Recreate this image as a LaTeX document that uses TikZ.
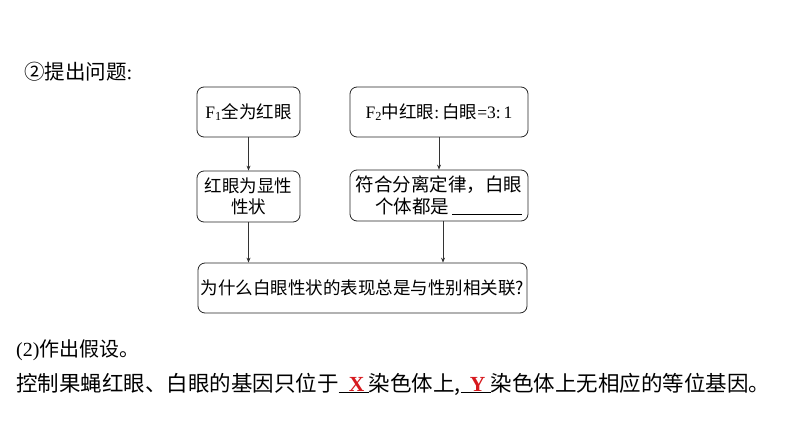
\documentclass[tikz,border=0pt]{standalone}
\usepackage{fontspec}
\setmainfont{Liberation Serif}
\newfontfamily\cjk{Noto Sans CJK SC}
\newfontfamily\tms{Liberation Serif}
\usetikzlibrary{arrows.meta}
\definecolor{ansred}{RGB}{215,25,30}
\tikzset{
  box/.style={draw=black!85, line width=0.8pt, rounded corners=7pt, inner sep=0pt, align=center,
    font=\fontsize{17.5}{21.5}\selectfont\cjk},
  conn/.style={draw=black!80, line width=0.7pt, -{Stealth[length=5pt,width=4pt]}},
  plain/.style={inner sep=0pt, anchor=west}
}
\begin{document}
\begin{tikzpicture}[x=1pt,y=-1pt]
\useasboundingbox[fill=white] (0,0) rectangle (794,446);
\node[plain, font=\fontsize{20.5}{24}\selectfont\cjk] (h) at (24,72) {\makebox[1em][l]{②}提出问题{\tms :}};
\node[box, minimum width=103pt, minimum height=50pt] (A) at (248.5,112) {{\tms F}\textsubscript{\tms 1}全为红眼};
\node[box, minimum width=178pt, minimum height=50pt] (B) at (439,112) {{\tms F}\textsubscript{\tms 2}中红眼{\tms :\,}白眼{\tms =3:\,1}};
\node[box, minimum width=103pt, minimum height=51pt] (D) at (248.5,196.5) {红眼为显性\\性状};
\node[box, minimum width=178pt, minimum height=51pt, font=\fontsize{18.5}{21.5}\selectfont\cjk] (C) at (439,195.5) {符合分离定律，白眼\\\makebox[9em][r]{个体都是\,\rule[-2pt]{70pt}{0.6pt}}};
\node[box, minimum width=329pt, minimum height=50pt] (E) at (362.5,288) {为什么白眼性状的表现总是与性别相关联?};
\draw[conn] (A.south) -- (D.north);
\draw[conn] (B.south) -- (C.north);
\draw[conn] (D.south) -- (D.south |- E.north);
\draw[conn] ([xshift=4pt]C.south) -- ([xshift=4pt]C.south |- E.north);
\node[plain, font=\fontsize{20}{24}\selectfont\cjk] (p2) at (16,350) {{\tms (2)}作出假设。};
\node[plain, font=\fontsize{21.5}{26}\selectfont\cjk] (p3) at (16,384) {控制果蝇红眼、白眼的基因只位于\underline{\makebox[30pt]{\hspace{6pt}\textcolor{ansred}{\tms\bfseries X}}}染色体上,\underline{\makebox[30pt]{\hspace{4pt}\textcolor{ansred}{\tms\bfseries Y}}}染色体上无相应的等位基因。};
\end{tikzpicture}
\end{document}
